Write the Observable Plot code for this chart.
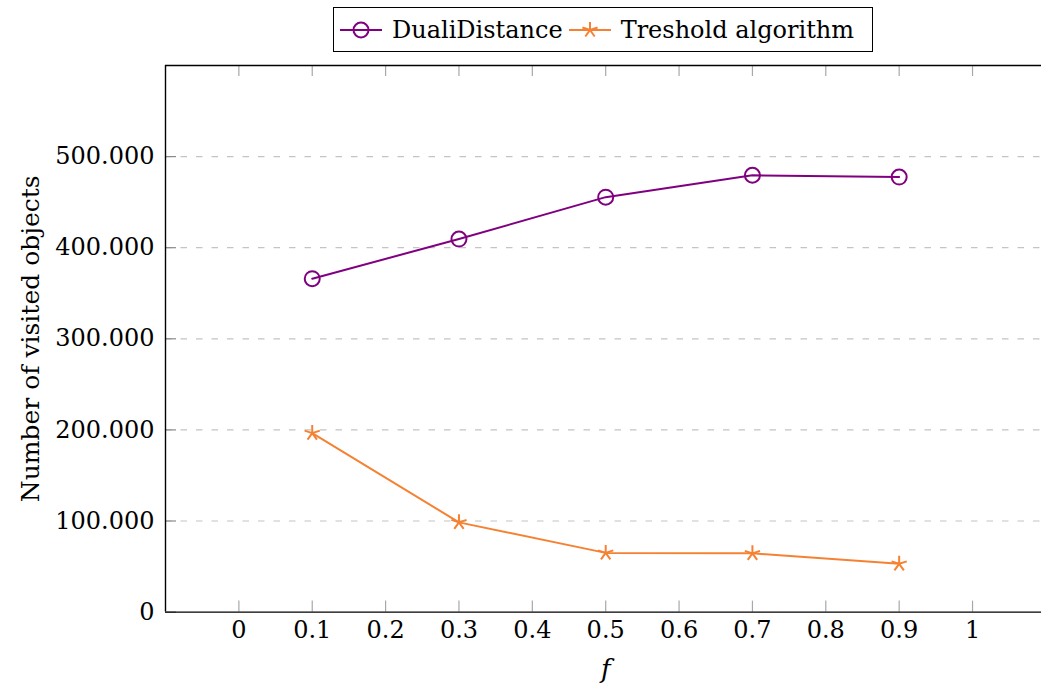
<!DOCTYPE html>
<html>
<head>
<meta charset="utf-8">
<script src="https://cdn.jsdelivr.net/npm/d3@7"></script>
<script src="https://cdn.jsdelivr.net/npm/@observablehq/plot@0.6"></script>
<style>
  body { margin: 0; background: #fff; font-family: "DejaVu Serif", serif; }
  #wrap { width: 1041px; height: 690px; overflow: hidden; }
  #legendRow { height: 58px; margin-left: 165px; width: 876px; display: flex; justify-content: center; align-items: flex-start; box-sizing: border-box; padding-top: 7px; }
  #legend { border: 1.3px solid #000; height: 45px; box-sizing: border-box; display: flex; align-items: center; padding: 0 12px 0 6px; font-size: 24px; color: #000; }
  #legend .item { display: flex; align-items: center; }
  #legend .item span { margin-left: 10px; margin-right: 6px; }
  #chart svg { display: block; overflow: hidden; }
</style>
</head>
<body>
<div id="wrap">
  <div id="legendRow"><div id="legend"></div></div>
  <div id="chart"></div>
</div>
<script>
// ---- data ----
const fValues = [0.1, 0.3, 0.5, 0.7, 0.9];
const dualiDistance = [366000, 409500, 455500, 479500, 477500];
const tresholdAlgorithm = [196500, 98500, 65000, 64500, 53000];
const seriesNames = ["DualiDistance", "Treshold algorithm"];
const seriesColors = ["#800080", "#f58232"];
const xTicks = [0, 0.1, 0.2, 0.3, 0.4, 0.5, 0.6, 0.7, 0.8, 0.9, 1];
const yTicks = [0, 100000, 200000, 300000, 400000, 500000];
const xLabel = "f";
const yLabel = "Number of visited objects";

// ---- build table ----
const rows = [];
fValues.forEach((f, i) => {
  rows.push({series: seriesNames[0], f, value: dualiDistance[i]});
  rows.push({series: seriesNames[1], f, value: tresholdAlgorithm[i]});
});

// 5-armed star symbol (pgfplots "star")
const starSymbol = {
  draw(context, size) {
    const r = Math.sqrt(size / Math.PI);
    for (let k = 0; k < 5; k++) {
      const a = -Math.PI / 2 + k * 2 * Math.PI / 5;
      context.moveTo(0, 0);
      context.lineTo(r * Math.cos(a), r * Math.sin(a));
    }
  }
};

const W = 1041, H = 632;
const mTop = 7, mBottom = 78.4, mLeft = 165, mRight = -4.4;
const frameW = W - mLeft - mRight, frameH = H - mTop - mBottom;
const tickLen = 11;
const fontSize = 24;
const fmtY = d => d3.format(",")(d).replace(/,/g, ".");

const chart = Plot.plot({
  width: W,
  height: H,
  marginTop: mTop,
  marginBottom: mBottom,
  marginLeft: mLeft,
  marginRight: mRight,
  style: {fontFamily: "DejaVu Serif, serif", fontSize: fontSize + "px", background: "#fff", color: "#000"},
  x: {domain: [-0.1, 1.1]},
  y: {domain: [0, 600000]},
  color: {domain: seriesNames, range: seriesColors},
  marks: [
    // dashed horizontal grid
    Plot.ruleY(yTicks.filter(d => d > 0), {stroke: "#c4c4c4", strokeWidth: 1.2, strokeDasharray: "6.5,9"}),
    // inward tick marks
    Plot.ruleY(yTicks, {stroke: "#8a8a8a", strokeWidth: 1.2, insetRight: frameW - tickLen}),
    Plot.ruleX(xTicks, {stroke: "#a8a8a8", strokeWidth: 1.2, insetTop: frameH - tickLen}),
    Plot.ruleX(xTicks, {stroke: "#a8a8a8", strokeWidth: 1.2, insetBottom: frameH - tickLen}),
    // frame
    Plot.ruleY([0], {stroke: "#000", strokeWidth: 1.4}),
    Plot.ruleY([600000], {stroke: "#000", strokeWidth: 1.4}),
    Plot.ruleX([-0.1], {stroke: "#000", strokeWidth: 1.4}),
    // axes
    Plot.axisX({ticks: xTicks, tickSize: 0, tickPadding: 9, tickFormat: d => String(d), label: null, fontSize: fontSize}),
    Plot.axisY({ticks: yTicks, tickSize: 0, tickPadding: 11, tickFormat: fmtY, label: null, fontSize: fontSize}),
    Plot.text([xLabel], {frameAnchor: "bottom", dy: 66, fontStyle: "italic", fontSize: fontSize + 2, fill: "#000"}),
    Plot.text([yLabel], {frameAnchor: "left", dx: -135, rotate: -90, textAnchor: "middle", fontSize: fontSize + 1, fill: "#000"}),
    // series
    Plot.line(rows, {x: "f", y: "value", stroke: "series", strokeWidth: 2}),
    Plot.dot(rows.filter(d => d.series === seriesNames[0]), {x: "f", y: "value", stroke: "series", r: 7.5, strokeWidth: 2, fill: "none"}),
    Plot.dot(rows.filter(d => d.series === seriesNames[1]), {x: "f", y: "value", stroke: "series", r: 8, strokeWidth: 2, symbol: starSymbol, fill: "none"})
  ]
});
document.getElementById("chart").appendChild(chart);

// ---- legend ----
const legend = document.getElementById("legend");
const icons = [
  c => `<circle cx="21" cy="11" r="7.5" fill="none" stroke="${c}" stroke-width="2"/>`,
  c => { let s = ""; for (let k = 0; k < 5; k++) { const a = -Math.PI/2 + k*2*Math.PI/5; s += `<line x1="21" y1="11" x2="${21+8*Math.cos(a)}" y2="${11+8*Math.sin(a)}" stroke="${c}" stroke-width="2"/>`; } return s; }
];
seriesNames.forEach((name, i) => {
  const c = seriesColors[i];
  const item = document.createElement("div");
  item.className = "item";
  item.innerHTML = `<svg width="42" height="22"><line x1="0" y1="11" x2="42" y2="11" stroke="${c}" stroke-width="2"/>${icons[i](c)}</svg><span>${name}</span>`;
  legend.appendChild(item);
});
</script>
</body>
</html>
